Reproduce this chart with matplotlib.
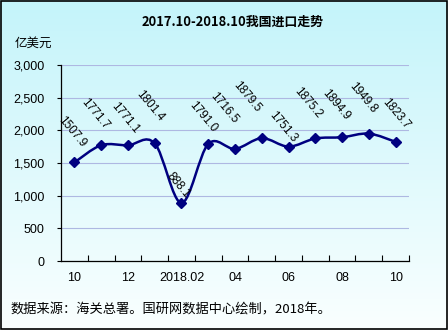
import numpy as np
import matplotlib
matplotlib.use("Agg")
import matplotlib.pyplot as plt
from matplotlib.path import Path
from matplotlib.patches import PathPatch, Rectangle

# ---- data ----
months = ["10", "11", "12", "2018.01", "2018.02", "03", "04", "05", "06", "07", "08", "09", "10"]
values = [1507.9, 1771.7, 1771.1, 1801.4, 888.1, 1791.0, 1716.5, 1879.5, 1751.3, 1875.2, 1894.9, 1949.8, 1823.7]
value_labels = ["1507.9", "1771.7", "1771.1", "1801.4", "888.1", "1791.0", "1716.5",
                "1879.5", "1751.3", "1875.2", "1894.9", "1949.8", "1823.7"]
shown_tick_labels = ["10", "12", "2018.02", "04", "06", "08", "10"]
y_ticks = [0, 500, 1000, 1500, 2000, 2500, 3000]

title = "2017.10-2018.10我国进口走势"
unit = "亿美元"
source = "数据来源：海关总署。国研网数据中心绘制，2018年。"

# label offsets in pixels (dx, dy up)
label_offsets_px = [(-2, 31), (-6, 31), (-3, 27), (-5, 37), (-3, 18), (-5, 27), (-11, 41),
                    (-15, 41), (-6, 20), (-7, 36), (-6, 32), (-6, 36), (0, 28)]

CJK = ['Noto Sans CJK SC', 'DejaVu Sans']
NUM = ['Liberation Sans', 'DejaVu Sans']
navy = '#000080'

fig = plt.figure(figsize=(4.48, 3.30), dpi=100)

# background gradient (vertical, slightly more cyan to the upper right)
bg = fig.add_axes([0, 0, 1, 1], zorder=-10)
top = np.array([196, 244, 250]) / 255.0
bot = np.array([250, 255, 255]) / 255.0
t = np.linspace(0, 1, 256)[:, None]
grad = top[None, None, :] * (1 - t[..., None]) + bot[None, None, :] * t[..., None]
grad = np.repeat(grad, 2, axis=1)
bg.imshow(grad, aspect='auto', extent=[0, 1, 0, 1], origin='upper')
bg.set_axis_off()
fig.patches.append(Rectangle((0.002, 0.003), 0.995, 0.994, transform=fig.transFigure,
                             fill=False, edgecolor='black', linewidth=1.2))

ax = fig.add_axes([61 / 448, 1 - 261 / 330, (409 - 61) / 448, (261 - 65) / 330])
ax.patch.set_alpha(0)

x = np.arange(len(values))
y = np.array(values)

# smoothed (Catmull-Rom style) curve as Bezier path
verts = [(x[0], y[0])]
codes = [Path.MOVETO]
n = len(x)
for i in range(n - 1):
    p0 = np.array([x[max(i - 1, 0)], y[max(i - 1, 0)]])
    p1 = np.array([x[i], y[i]])
    p2 = np.array([x[i + 1], y[i + 1]])
    p3 = np.array([x[min(i + 2, n - 1)], y[min(i + 2, n - 1)]])
    c1 = p1 + (p2 - p0) / 6.0
    c2 = p2 - (p3 - p1) / 6.0
    verts += [tuple(c1), tuple(c2), tuple(p2)]
    codes += [Path.CURVE4] * 3
ax.add_patch(PathPatch(Path(verts, codes), fill=False, edgecolor=navy, linewidth=1.8, zorder=3))
ax.plot(x, y, linestyle='none', marker='D', markersize=5.5, color=navy, zorder=4)

for xi, yi, lab, (dx, dy) in zip(x, y, value_labels, label_offsets_px):
    ax.annotate(lab, (xi, yi), xytext=(dx * 0.72, dy * 0.72), textcoords='offset points',
                ha='center', va='center', rotation=-50, fontsize=8.5, family=NUM, color='black')

ax.set_xlim(-0.5, n - 0.5)
ax.set_ylim(0, 3000)
ax.set_yticks(y_ticks)
ax.set_yticklabels([f"{v:,}" for v in y_ticks], family=NUM, fontsize=9)
ax.yaxis.grid(True, color='#AEB8E2', linewidth=0.8)
ax.set_axisbelow(True)

ax.set_xticks(np.arange(-0.5, n, 1.0)[1:])
ax.set_xticklabels([])
ax.tick_params(axis='x', which='major', direction='in', length=4, width=0.8, color='black')
ax.set_xticks(x[::2], minor=True)
ax.set_xticklabels(shown_tick_labels, minor=True, family=NUM, fontsize=9)
ax.tick_params(axis='x', which='minor', length=0, pad=8)
ax.tick_params(axis='y', direction='out', length=3, width=0.8, pad=9)

for s in ['top', 'right']:
    ax.spines[s].set_visible(False)
for s in ['left', 'bottom']:
    ax.spines[s].set_color('black')
    ax.spines[s].set_linewidth(0.9)

fig.text(233 / 448, 1 - 22 / 330, title, ha='center', va='center', fontsize=9.3,
         fontweight='bold', family=CJK)
fig.text(15 / 448, 1 - 43 / 330, unit, ha='left', va='center', fontsize=9, family=CJK)
fig.text(10 / 448, 1 - 310 / 330, source, ha='left', va='center', fontsize=9.5, family=CJK)

fig.savefig('out.png', dpi=100)
